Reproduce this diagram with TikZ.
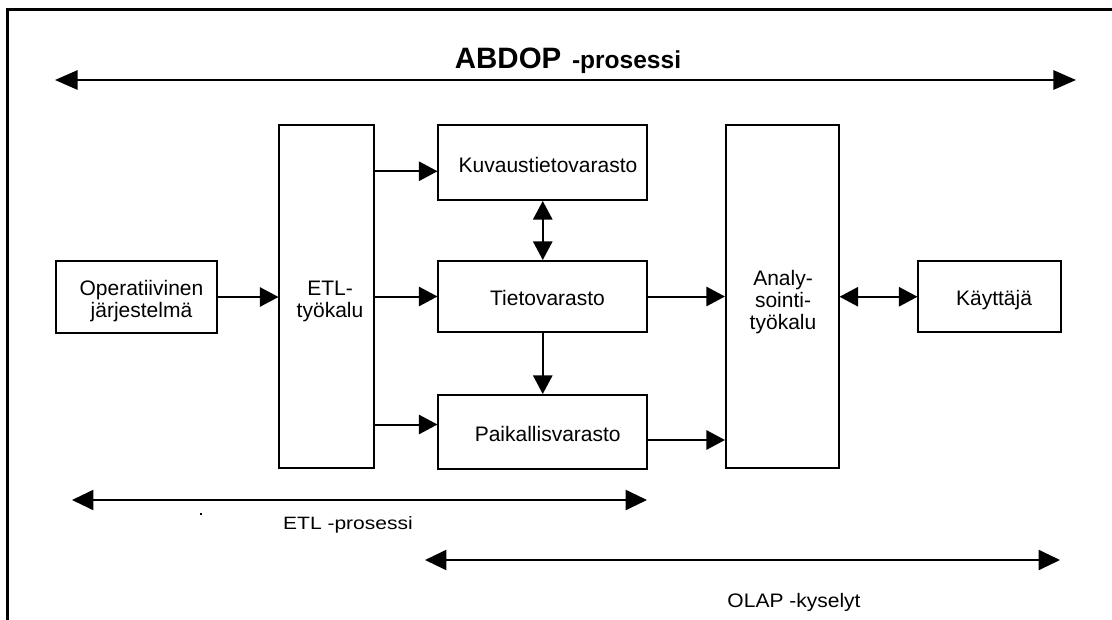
\documentclass[tikz,border=0pt]{standalone}
\usepackage{fontspec}
\usepackage{graphicx}
\setmainfont{Liberation Sans}
\usetikzlibrary{arrows.meta,calc}
\begin{document}
\begin{tikzpicture}[x=0.75pt,y=-0.75pt,
  box/.style={draw, line width=1.5pt, rectangle, inner sep=0pt},
  txt/.style={font=\fontsize{15.75pt}{16.5pt}\selectfont, inner sep=0pt, align=center, anchor=base},
  flow/.style={line width=1.5pt, -{Triangle[length=14pt,width=14.5pt]}},
  twoway/.style={line width=1.5pt, {Triangle[length=14pt,width=14.5pt]}-{Triangle[length=14pt,width=14.5pt]}},
  spanarrow/.style={line width=1.5pt, {Triangle[length=16pt,width=15pt]}-{Triangle[length=16pt,width=15pt]}}]

% canvas and outer frame
\useasboundingbox (0,0) rectangle (1112,620);
\clip (0,0) rectangle (1112,620);
\fill[white] (0,0) rectangle (1112,620);
\draw[line width=2.5pt, line join=miter] (7.5,640) -- (7.5,9.5) -- (1130,9.5);

% boxes
\node[box, minimum width=120.75pt, minimum height=54pt]   (op)  at (136.5,297)    {};
\node[box, minimum width=70.9pt,   minimum height=257.25pt] (etl) at (326.75,296.5) {};
\node[box, minimum width=156.4pt,  minimum height=56.6pt]  (kuv) at (542.75,162.25) {};
\node[box, minimum width=156.4pt,  minimum height=53.25pt] (tie) at (542.75,296.5) {};
\node[box, minimum width=156.4pt,  minimum height=55.5pt]  (pai) at (542.75,432)   {};
\node[box, minimum width=84.4pt,   minimum height=257.6pt] (ana) at (782.25,296.25) {};
\node[box, minimum width=106.9pt,  minimum height=53.6pt]  (kay) at (989.75,296.75) {};

% box texts (multi-line nodes sit on the baseline of their last line)
\node[txt] (opt)  at (141.5,317.3) {Operatiivinen\\järjestelmä};
\node[txt] (etlt) at (330,317)     {ETL-\\työkalu};
\node[txt] (kuvt) at (548,172.5)   {Kuvaustietovarasto};
\node[txt] (tiet) at (547.5,305)   {Tietovarasto};
\node[txt] (pait) at (547.7,441.5) {Paikallisvarasto};
\node[txt] (anat) at (783,329.5)   {Analy-\\sointi-\\työkalu};
\node[txt] (kayt) at (994,305)     {Käyttäjä};

% entry points on the storage boxes
\coordinate (kin) at ($(kuv.west)+(0,9)$);
\coordinate (pin) at ($(pai.west)+(0,-7.5)$);
\coordinate (pout) at ($(pai.east)+(0,8)$);

% connectors between boxes
\draw[flow] (op.east) -- (op.east -| etl.west);
\draw[flow] (kin -| etl.east) -- (kin);
\draw[flow] (tie.west -| etl.east) -- (tie.west);
\draw[flow] (pin -| etl.east) -- (pin);
\draw[twoway] (kuv.south) -- (tie.north);
\draw[flow] (tie.south) -- (pai.north);
\draw[flow] (tie.east) -- (tie.east -| ana.west);
\draw[flow] (pout) -- (pout -| ana.west);
\draw[twoway] (ana.east |- kay.west) -- (kay.west);

% process spans
\coordinate (abL) at (55,80);
\coordinate (abR) at (1076,80);
\coordinate (etlL) at (72,500);
\coordinate (etlR) at (647,500);
\coordinate (olL) at (425,560);
\coordinate (olR) at (1060,560);
\draw[line width=1.5pt, {Triangle[length=17pt,width=14.5pt]}-{Triangle[length=17pt,width=14.5pt]}] (abL) -- (abR);
\draw[spanarrow] (etlL) -- (etlR);
\draw[spanarrow] (olL) -- (olR);

% span labels
\node[anchor=base, inner sep=0pt] (title) at (568,68.3)
  {{\fontsize{22.1pt}{26pt}\selectfont\bfseries ABDOP}\hspace{8pt}{\fontsize{18.4pt}{22pt}\selectfont\bfseries -prosessi}};
\node[anchor=base, inner sep=0pt, font=\fontsize{15.75pt}{18pt}\selectfont] (etlp) at (348,529) {\scalebox{1}[0.85]{ETL -prosessi}};
\node[anchor=base, inner sep=0pt, font=\fontsize{15.75pt}{18pt}\selectfont] (olp) at (794,607.3) {\scalebox{1}[0.93]{OLAP -kyselyt}};
\fill (200,513) rectangle (202,515);
\end{tikzpicture}
\end{document}
